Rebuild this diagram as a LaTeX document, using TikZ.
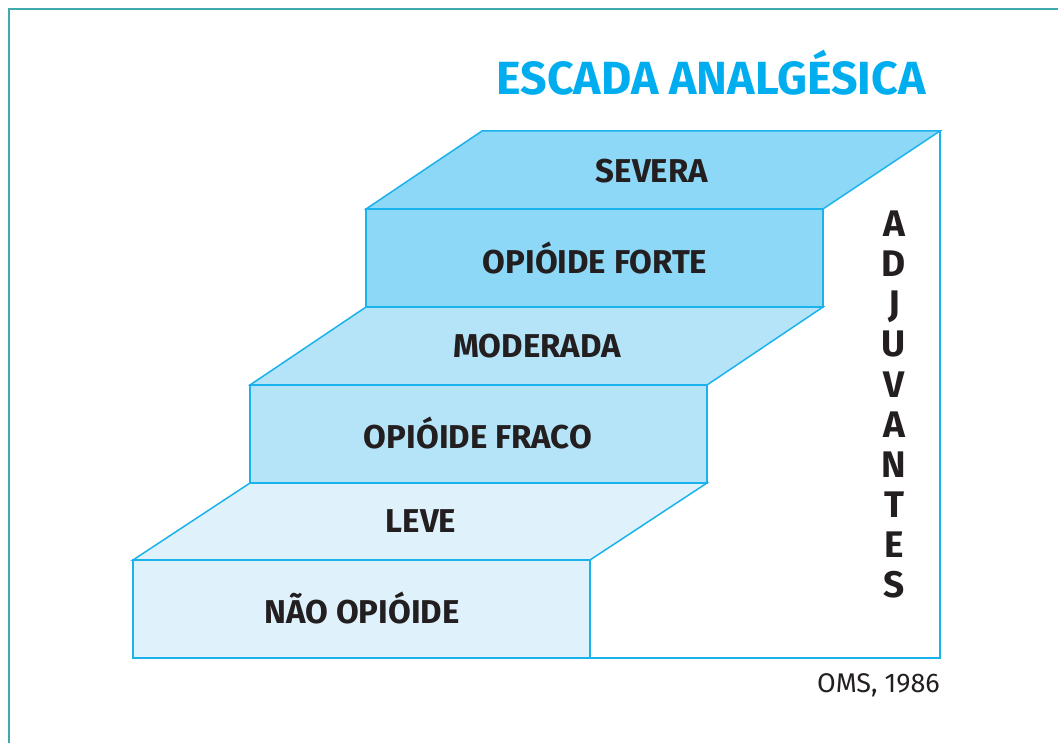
\documentclass[tikz,border=0pt]{standalone}
\usepackage{fontspec}
\setmainfont{Fira Sans}
\newfontfamily\condbold{Fira Sans Bold}
\newfontfamily\adjfont{Fira Sans Bold}
\newfontfamily\oms{Fira Sans}
\definecolor{frame}{HTML}{3FA9AE}
\definecolor{edge}{HTML}{1AB2EC}
\definecolor{stepA}{HTML}{DFF2FC}
\definecolor{stepB}{HTML}{B5E4F9}
\definecolor{stepC}{HTML}{8DD7F7}
\definecolor{ink}{HTML}{231F20}
\definecolor{titleblue}{HTML}{00AEEF}
\tikzset{
  face/.style={draw=edge, line width=1.5pt, line join=miter},
  lbl/.style={font=\condbold\fontsize{33}{36}\selectfont, text=ink, anchor=base, inner sep=0pt},
  adj/.style={font=\adjfont\fontsize{37}{40}\selectfont, text=ink, anchor=base, inner sep=0pt},
}
\begin{document}
\begin{tikzpicture}[x=1pt,y=-1pt]
\useasboundingbox (0,0) rectangle (1058,743);
% outer frame (top and left)
\draw[frame, line width=2pt] (9,743) -- (9,9) -- (1058,9);
% coordinates
\coordinate (a1) at (133,560); \coordinate (b1) at (590,560);
\coordinate (c1) at (590,658); \coordinate (d1) at (133,658);
\coordinate (e1) at (707,483); \coordinate (f1) at (250,483);
\coordinate (a2) at (250,385); \coordinate (b2) at (707,385);
\coordinate (e2) at (823,307); \coordinate (f2) at (366,307);
\coordinate (a3) at (366,209); \coordinate (b3) at (823,209);
\coordinate (e3) at (940,131); \coordinate (f3) at (482,131);
\coordinate (w) at (940,658);
% step 1
\filldraw[face, fill=stepA] (a1) -- (b1) -- (e1) -- (f1) -- cycle;
\filldraw[face, fill=stepA] (a1) -- (b1) -- (c1) -- (d1) -- cycle;
% step 2
\filldraw[face, fill=stepB] (a2) -- (b2) -- (e2) -- (f2) -- cycle;
\filldraw[face, fill=stepB] (a2) -- (b2) -- (e1) -- (f1) -- cycle;
% step 3
\filldraw[face, fill=stepC] (a3) -- (b3) -- (e3) -- (f3) -- cycle;
\filldraw[face, fill=stepC] (a3) -- (b3) -- (e2) -- (f2) -- cycle;
% wall
\draw[face] (e3) -- (w) -- (c1);
% labels
\node[lbl] (t1) at (362,623.5) {NÃO OPIÓIDE};
\node[lbl] (t2) at (421,532.5) {LEVE};
\node[lbl] (t3) at (478,448.5) {OPIÓIDE FRACO};
\node[lbl] (t4) at (537,357.5) {MODERADA};
\node[lbl] (t5) at (595,273.5) {OPIÓIDE FORTE};
\node[lbl] (t6) at (652,182.5) {SEVERA};
% title
\node[font=\condbold\fontsize{46.5}{50}\selectfont, text=titleblue, anchor=base, inner sep=0pt] (title) at (711,95) {ESCADA ANALGÉSICA};
% adjuvantes
\foreach \l [count=\i from 0] in {A,D,J,U,V,A,N,T,E,S}{
  \node[adj] (adj\i) at (894,237+40*\i) {\l};
}
% source
\node[font=\oms\fontsize{27}{30}\selectfont, text=ink, anchor=base east, inner sep=0pt] (src) at (940,692) {OMS, 1986};
\end{tikzpicture}
\end{document}
